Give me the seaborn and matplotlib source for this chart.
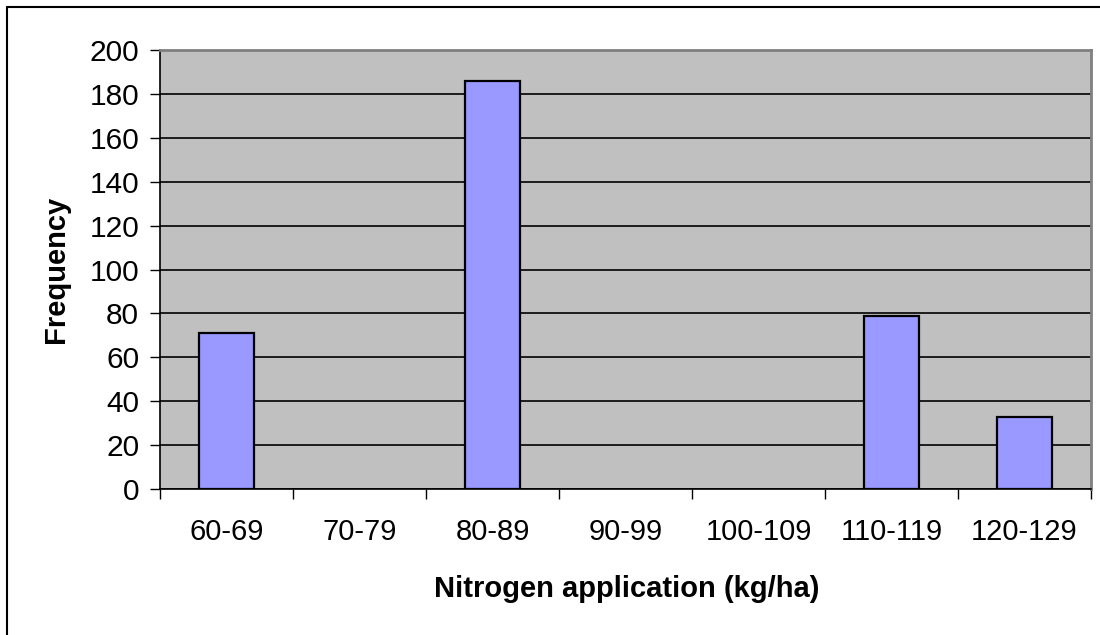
import matplotlib
matplotlib.use("Agg")
import matplotlib.pyplot as plt
import seaborn as sns
import pandas as pd
from matplotlib.lines import Line2D

categories = ["60-69", "70-79", "80-89", "90-99", "100-109", "110-119", "120-129"]
frequency = [71, 0, 186, 0, 0, 79, 33]
y_ticks = list(range(0, 201, 20))

df = pd.DataFrame({"range": categories, "freq": frequency})

sns.set_theme(style="white")
plt.rcParams["font.family"] = ["Liberation Sans", "DejaVu Sans"]
plt.rcParams.update({"text.color": "black", "axes.labelcolor": "black",
                     "xtick.color": "black", "ytick.color": "black"})

W, H = 1100, 635
fig = plt.figure(figsize=(W / 100, H / 100), dpi=100)
ax = fig.add_axes([160 / W, 1 - 489 / H, 931 / W, 439 / H])

sns.barplot(data=df, x="range", y="freq", ax=ax, color="#9999ff",
            saturation=1, width=0.41, edgecolor="black", linewidth=1.6,
            zorder=3)
# empty bins have no visible bar
for patch in ax.patches:
    if patch.get_height() == 0:
        patch.set_visible(False)

ax.set_facecolor("#c0c0c0")
ax.set_ylim(0, 200)
ax.set_xlim(-0.5, len(categories) - 0.5)
ax.set_yticks(y_ticks)
ax.yaxis.grid(True, color="black", linewidth=1.2, zorder=1)
ax.set_axisbelow(True)

# category boundary ticks on x, labels centred under bars
ax.set_xticks([i - 0.5 for i in range(len(categories) + 1)])
ax.set_xticklabels([])
ax.set_xticks(range(len(categories)), minor=True)
ax.set_xticklabels(categories, minor=True)
ax.tick_params(axis="x", which="major", direction="out", length=7,
               width=1, color="black", bottom=True)
ax.tick_params(axis="x", which="minor", length=0, pad=21, labelsize=21,
               labelcolor="black")
ax.tick_params(axis="y", direction="out", length=7, width=1, color="black",
               left=True, labelsize=21.5, pad=8, labelcolor="black")

for side in ["left", "bottom"]:
    ax.spines[side].set_color("black")
    ax.spines[side].set_linewidth(1.2)
for side in ["top", "right"]:
    ax.spines[side].set_visible(True)
    ax.spines[side].set_color("#808080")
    ax.spines[side].set_linewidth(2)

ax.set_xlabel("Nitrogen application (kg/ha)", fontsize=21,
              fontweight="bold", va="center", color="black")
ax.set_ylabel("Frequency", fontsize=21, fontweight="bold",
              va="center", ha="center", color="black")
ax.xaxis.set_label_coords(627 / W, 1 - 589 / H, transform=fig.transFigure)
ax.yaxis.set_label_coords(56 / W, 1 - 269 / H, transform=fig.transFigure)

# chart-area frame (left and top edges)
fig.add_artist(Line2D([6.5 / W, 6.5 / W], [0, 1 - 6.5 / H],
                      transform=fig.transFigure, color="black", linewidth=1.5))
fig.add_artist(Line2D([6.5 / W, 1], [1 - 6.5 / H, 1 - 6.5 / H],
                      transform=fig.transFigure, color="black", linewidth=1.5))

fig.savefig("out.png", dpi=100)
